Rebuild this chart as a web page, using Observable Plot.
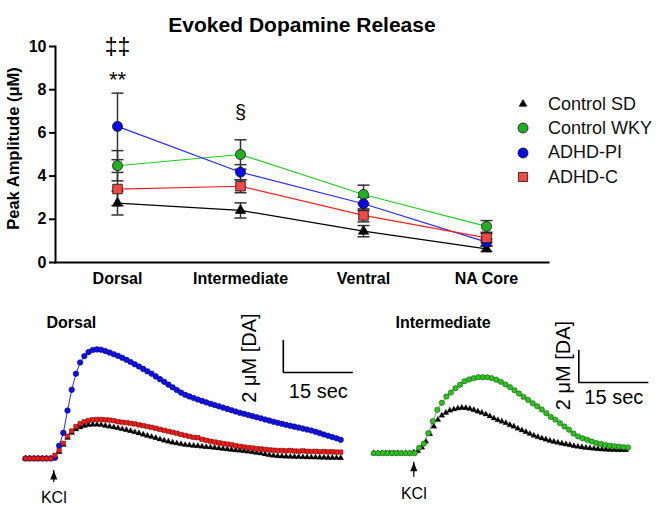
<!DOCTYPE html>
<html><head><meta charset="utf-8">
<script src="https://cdn.jsdelivr.net/npm/d3@7"></script>
<script src="https://cdn.jsdelivr.net/npm/@observablehq/plot@0.6"></script>
<style>
html,body{margin:0;padding:0;background:#fff;}
#root{position:relative;width:656px;height:507px;font-family:"Liberation Sans",Arial,sans-serif;overflow:hidden;background:#fff;}
.panel{position:absolute;}
.legend{position:absolute;left:510px;top:92px;font-size:18px;color:#111;}
.legend .row{display:flex;align-items:center;height:24.3px;white-space:nowrap;}
.legend svg{margin-right:12px;}
</style></head><body><div id="root"></div>
<script>
// ---------- Top chart data ----------
const regions = ["Dorsal", "Intermediate", "Ventral", "NA Core"];
const seriesNames = ["Control SD", "Control WKY", "ADHD-PI", "ADHD-C"];
const meanSD  = [2.75, 2.41, 1.45, 0.63];
const semSD   = [0.55, 0.35, 0.26, 0.12];
const meanWKY = [4.48, 5.00, 3.15, 1.67];
const semWKY  = [0.70, 0.68, 0.43, 0.27];
const meanPI  = [6.30, 4.18, 2.72, 0.94];
const semPI   = [1.54, 0.35, 0.30, 0.15];
const meanC   = [3.40, 3.53, 2.18, 1.14];
const semC    = [0.77, 0.30, 0.30, 0.20];
const yTicks = [0, 2, 4, 6, 8, 10];
const titleText = "Evoked Dopamine Release";
const yLabelText = "Peak Amplitude (\u03bcM)";
const annotations = [
  {region: "Dorsal", y: 9.95, label: "\u2021\u2021", size: 23},
  {region: "Dorsal", y: 8.45, label: "**", size: 22},
  {region: "Intermediate", y: 6.95, label: "\u00a7", size: 20}
];

// ---------- Bottom traces data (µM per sample) ----------
const dorsalDt = 0.9; // seconds per sample
const dorsalPI = [0,0,0,0,0,0,0,0.05,0.8,1.6,3.0,4.3,5.3,6.0,6.4,6.65,6.78,6.82,6.8,6.72,6.62,6.52,6.42,6.3,6.17,6.03,5.89,5.75,5.6,5.45,5.3,5.13,4.96,4.79,4.62,4.45,4.28,4.12,3.98,3.88,3.78,3.69,3.6,3.51,3.42,3.34,3.26,3.18,3.1,3.02,2.94,2.86,2.79,2.72,2.65,2.58,2.51,2.44,2.37,2.3,2.23,2.17,2.11,2.05,1.99,1.93,1.87,1.81,1.75,1.67,1.59,1.5,1.42,1.34,1.26,1.17];
const dorsalC = [0,0,0,0,0,0,0,0.2,0.5,0.95,1.4,1.72,2.0,2.18,2.3,2.38,2.42,2.44,2.44,2.42,2.4,2.36,2.3,2.27,2.24,2.2,2.16,2.1,2.05,2.0,1.95,1.89,1.82,1.76,1.7,1.64,1.58,1.5,1.44,1.38,1.32,1.3,1.2,1.14,1.08,1.03,0.98,0.94,0.9,0.86,0.8,0.76,0.72,0.68,0.66,0.62,0.6,0.57,0.54,0.52,0.5,0.5,0.48,0.5,0.47,0.46,0.48,0.45,0.44,0.45,0.42,0.44,0.41,0.42,0.4,0.4];
const dorsalSD = [0,0,0,0,0,0,0,0.1,0.4,0.85,1.3,1.6,1.82,1.95,2.05,2.1,2.12,2.12,2.1,2.05,2.0,1.95,1.9,1.84,1.78,1.72,1.65,1.58,1.5,1.42,1.35,1.28,1.2,1.13,1.06,1.0,0.95,0.9,0.85,0.83,0.8,0.78,0.75,0.72,0.7,0.67,0.64,0.61,0.58,0.55,0.52,0.5,0.47,0.44,0.4,0.36,0.32,0.27,0.22,0.18,0.15,0.14,0.13,0.12,0.11,0.1,0.09,0.08,0.07,0.07,0.06,0.06,0.05,0.05,0.04,0.03];
const interWKYDt = 0.972;
const interWKY = [0,0,0,0,0,0,0,0,0,0,0.34,0.59,1.25,2.0,2.71,3.15,3.54,3.79,4.06,4.28,4.5,4.61,4.69,4.75,4.75,4.75,4.69,4.59,4.46,4.3,4.13,3.93,3.73,3.52,3.33,3.12,2.93,2.73,2.5,2.27,2.1,1.88,1.67,1.47,1.23,1.05,0.93,0.84,0.73,0.64,0.58,0.52,0.47,0.44,0.41,0.38,0.36];
const interSDDt = 0.857;
const interSD = [0,0,0,0,0,0,0,0,0,0,0.05,0.14,0.36,0.73,1.2,1.67,2.09,2.36,2.53,2.67,2.74,2.8,2.84,2.83,2.78,2.7,2.61,2.53,2.43,2.31,2.18,2.07,1.98,1.89,1.76,1.67,1.54,1.43,1.33,1.21,1.1,1.01,0.93,0.86,0.78,0.72,0.66,0.61,0.56,0.51,0.45,0.41,0.37,0.34,0.31,0.29,0.26,0.24,0.23,0.22,0.21,0.2,0.2,0.2];

// annotations for trace panels (data units: seconds, µM)
const dorsalBar = {t: 55.2, v: 5.375, dt: 15, dv: 2};
const interBar  = {t: 43.9, v: 4.42, dt: 15, dv: 2};
const dorsalKCl = {t: 6.06, tip: -0.75, tail: -1.5, textV: -2.44};
const interKCl  = {t: 8.57, tip: -0.56, tail: -1.5, textV: -2.52};

// ---------- styles ----------
const FONT = "'Liberation Sans', Arial, sans-serif";
const lineColor   = {"Control SD": "#000000", "Control WKY": "#22cc22", "ADHD-PI": "#2828ff", "ADHD-C": "#ff2020"};
const markerFill  = {"Control SD": "#000000", "Control WKY": "#22b022", "ADHD-PI": "#0a0ae6", "ADHD-C": "#f24848"};
const markerSym   = {"Control SD": "triangle", "Control WKY": "circle", "ADHD-PI": "circle", "ADHD-C": "square"};
const markerR     = {"Control SD": 3.8, "Control WKY": 5, "ADHD-PI": 5, "ADHD-C": 5.4};

const root = document.getElementById("root");

// ---------- top chart ----------
const means = [meanSD, meanWKY, meanPI, meanC];
const sems = [semSD, semWKY, semPI, semC];
const rows = [];
seriesNames.forEach((s, k) => regions.forEach((r, i) => rows.push({series: s, region: r, mean: means[k][i], sem: sems[k][i]})));

const capSymbol = {draw(ctx) { ctx.moveTo(-6, 0); ctx.lineTo(6, 0); }};

const topMarks = [
  Plot.ruleX(rows, {x: "region", y1: d => d.mean - d.sem, y2: d => d.mean + d.sem, stroke: "#333", strokeWidth: 1.5}),
  Plot.dot(rows, {x: "region", y: d => d.mean + d.sem, symbol: capSymbol, stroke: "#333", strokeWidth: 1.5, fill: "none"}),
  Plot.dot(rows, {x: "region", y: d => d.mean - d.sem, symbol: capSymbol, stroke: "#333", strokeWidth: 1.5, fill: "none"}),
];
seriesNames.forEach(s => {
  topMarks.push(Plot.line(rows.filter(d => d.series === s), {x: "region", y: "mean", stroke: lineColor[s], strokeWidth: 1.2}));
});
seriesNames.forEach(s => {
  topMarks.push(Plot.dot(rows.filter(d => d.series === s), {x: "region", y: "mean", symbol: markerSym[s], r: markerR[s], fill: markerFill[s], stroke: "#111", strokeWidth: 0.8}));
});
topMarks.push(
  Plot.frame({anchor: "left", strokeWidth: 2}),
  Plot.frame({anchor: "bottom", strokeWidth: 2}),
  Plot.axisY({ticks: yTicks, tickSize: 6, tickPadding: 3, strokeWidth: 2, fontSize: 16, fontWeight: "bold", label: null}),
  Plot.axisX({tickSize: 0, tickPadding: 10, fontSize: 16, fontWeight: "bold", label: null}),
  Plot.text([yLabelText], {frameAnchor: "left", text: d => d, rotate: -90, dx: -42, dy: -6, fontSize: 16.5, fontWeight: "bold", textAnchor: "middle"}),
  Plot.text([titleText], {frameAnchor: "top", text: d => d, dy: -29, fontSize: 21, fontWeight: "bold"}),
  ...annotations.map(a => Plot.text([a], {x: "region", y: "y", text: "label", fontSize: a.size}))
);

const topPlot = Plot.plot({
  width: 656, height: 300,
  marginTop: 46, marginBottom: 38, marginLeft: 55, marginRight: 108,
  style: {fontFamily: FONT, background: "transparent", color: "#000", overflow: "visible"},
  x: {type: "point", domain: regions, padding: 0.5},
  y: {domain: [0, 10]},
  marks: topMarks
});
const topDiv = document.createElement("div");
topDiv.className = "panel"; topDiv.style.left = "0px"; topDiv.style.top = "0px";
topDiv.appendChild(topPlot);
root.appendChild(topDiv);

// legend
const legend = document.createElement("div");
legend.className = "legend";
seriesNames.forEach(s => {
  const row = document.createElement("div"); row.className = "row";
  const sym = d3.symbol().type(s === "Control SD" ? d3.symbolTriangle2 : s === "ADHD-C" ? d3.symbolSquare : d3.symbolCircle)
    .size(Math.PI * Math.pow(s === "Control SD" ? 3.6 : s === "ADHD-C" ? 5.2 : 5, 2));
  row.innerHTML = `<svg width="26" height="20"><path transform="translate(13,10)" d="${sym()}" fill="${markerFill[s]}" stroke="#111" stroke-width="0.8"/></svg><span>${s}</span>`;
  legend.appendChild(row);
});
root.appendChild(legend);

// ---------- bottom trace panels ----------
const PXS = 4.67;  // px per second
const PXU = 16;    // px per µM
const arrowHead = {draw(ctx) { ctx.moveTo(0, 0); ctx.lineTo(3.5, 9); ctx.lineTo(-3.5, 9); ctx.closePath(); }};
const toPts = (arr, dt) => arr.map((v, i) => ({t: i * dt, v}));

function tracePanel({width, x0, base, series, bar, barTextDx, barTextV, secTextV, kcl, label, labelT, labelV}) {
  const marks = [];
  series.forEach(s => marks.push(...s));
  marks.push(
    Plot.ruleX([bar], {x: "t", y1: "v", y2: d => d.v + d.dv, stroke: "#000", strokeWidth: 1.6}),
    Plot.ruleY([bar], {y: "v", x1: "t", x2: d => d.t + d.dt, stroke: "#000", strokeWidth: 1.6}),
    Plot.text([bar], {x: d => d.t - barTextDx, y: barTextV, text: () => "2 \u03bcM [DA]", rotate: -90, fontSize: 20, textAnchor: "middle"}),
    Plot.text([bar], {x: d => d.t + d.dt / 2, y: secTextV, text: () => "15 sec", fontSize: 20, textAnchor: "middle"}),
    Plot.ruleX([kcl], {x: "t", y1: "tail", y2: "tip", stroke: "#000", strokeWidth: 1.2}),
    Plot.dot([kcl], {x: "t", y: "tip", symbol: arrowHead, fill: "#000", stroke: "none"}),
    Plot.text([kcl], {x: "t", y: "textV", text: () => "KCl", fontSize: 16}),
    Plot.text([label], {x: () => labelT, y: () => labelV, text: d => d, fontSize: 16, fontWeight: "bold", textAnchor: "start"})
  );
  return Plot.plot({
    width, height: 207, margin: 0,
    style: {fontFamily: FONT, background: "transparent", color: "#000", overflow: "visible"},
    x: {domain: [0, 70], range: [x0, x0 + 70 * PXS], axis: null},
    y: {domain: [-3, 10], range: [base + 3 * PXU, base - 10 * PXU], axis: null},
    marks
  });
}

const dSD = toPts(dorsalSD, dorsalDt), dPI = toPts(dorsalPI, dorsalDt), dC = toPts(dorsalC, dorsalDt);
const dorsalPlot = tracePanel({
  width: 330, x0: 25, base: 158,
  series: [
    [Plot.dot(dSD, {x: "t", y: "v", symbol: "triangle", r: 2.2, fill: "#000", stroke: "#000", strokeWidth: 0.3})],
    [Plot.line(dPI, {x: "t", y: "v", stroke: "#2a2aff", strokeWidth: 1}),
     Plot.dot(dPI, {x: "t", y: "v", r: 2.8, fill: "#1010e8", stroke: "#000050", strokeWidth: 0.5})],
    [Plot.dot(dC, {x: "t", y: "v", symbol: "square", r: 2.5, fill: "#ea1c18", stroke: "#6a0000", strokeWidth: 0.5})]
  ],
  bar: dorsalBar, barTextDx: 7.3, barTextV: 6.28, secTextV: 4.2,
  kcl: dorsalKCl, label: "Dorsal", labelT: 4.5, labelV: 8.5
});
const dDiv = document.createElement("div");
dDiv.className = "panel"; dDiv.style.left = "0px"; dDiv.style.top = "300px";
dDiv.appendChild(dorsalPlot); root.appendChild(dDiv);

const iSD = toPts(interSD, interSDDt), iWKY = toPts(interWKY, interWKYDt);
const interPlot = tracePanel({
  width: 326, x0: 43.3, base: 152.7,
  series: [
    [Plot.dot(iSD, {x: "t", y: "v", symbol: "triangle", r: 2.2, fill: "#000", stroke: "#000", strokeWidth: 0.3})],
    [Plot.line(iWKY, {x: "t", y: "v", stroke: "#2a9a2a", strokeWidth: 0.8}),
     Plot.dot(iWKY, {x: "t", y: "v", r: 2.7, fill: "#2fbf1f", stroke: "#0a4a0a", strokeWidth: 0.5})]
  ],
  bar: interBar, barTextDx: 3.2, barTextV: 5.48, secTextV: 3.45,
  kcl: interKCl, label: "Intermediate", labelT: 4.65, labelV: 8.17
});
const iDiv = document.createElement("div");
iDiv.className = "panel"; iDiv.style.left = "330px"; iDiv.style.top = "300px";
iDiv.appendChild(interPlot); root.appendChild(iDiv);
</script></body></html>
